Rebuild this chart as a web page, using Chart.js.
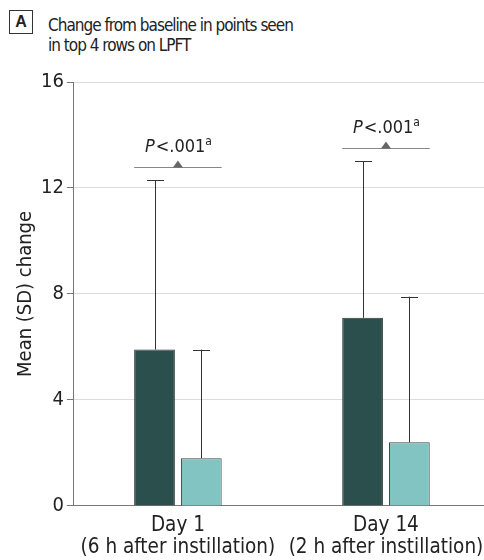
<!DOCTYPE html>
<html><head><meta charset="utf-8">
<script src="https://cdn.jsdelivr.net/npm/chart.js@4.4.1/dist/chart.umd.min.js"></script>
<style>
html,body{margin:0;padding:0;background:#fff;}
#wrap{position:relative;width:484px;height:560px;overflow:hidden;font-family:"DejaVu Sans Condensed","Liberation Sans",sans-serif;}
#box{position:absolute;left:9px;top:10px;width:22px;height:22px;border:1px solid #333;font-size:16px;font-weight:bold;text-align:center;line-height:22px;color:#222;font-family:"Liberation Sans","DejaVu Sans",sans-serif;}
#title{position:absolute;left:48px;top:15px;font-size:17px;letter-spacing:-1px;line-height:20px;color:#222;}
canvas{position:absolute;left:0;top:0;}
</style></head>
<body><div id="wrap">
<div id="box">A</div>
<div id="title">Change from baseline in points seen<br>in top 4 rows on LPFT</div>
<canvas id="c" width="496" height="570"></canvas>
</div>
<script>
const categories = [["Day 1","(6 h after instillation)"],["Day 14","(2 h after instillation)"]];
const seriesNames = ["Group 1","Group 2"];
const darkMeans = [5.9, 7.1];
const darkSD = [6.4, 5.9];
const lightMeans = [1.8, 2.4];
const lightSD = [4.1, 5.5];
const yTicks = [0,4,8,12,16];
const pLabels = ["P<.001a","P<.001a"];
const pLineLevel = [12.8, 13.5];
const FAM = '"DejaVu Sans Condensed","Liberation Sans",sans-serif';

const errorBars = {
  id:'errorBars',
  afterDatasetsDraw(chart){
    const ctx = chart.ctx, y = chart.scales.y;
    chart.data.datasets.forEach((ds,di)=>{
      const meta = chart.getDatasetMeta(di);
      meta.data.forEach((bar,i)=>{
        const top = y.getPixelForValue(ds.data[i] + ds.sd[i]);
        const base = y.getPixelForValue(ds.data[i]);
        ctx.save();
        ctx.strokeStyle='#333';ctx.lineWidth=1;
        ctx.beginPath();
        ctx.moveTo(Math.round(bar.x)+0.5, base);
        ctx.lineTo(Math.round(bar.x)+0.5, top);
        ctx.moveTo(Math.round(bar.x)-8, Math.round(top)+0.5);
        ctx.lineTo(Math.round(bar.x)+9, Math.round(top)+0.5);
        ctx.stroke();
        ctx.restore();
      });
    });
  }
};
const pAnn = {
  id:'pAnn',
  afterDatasetsDraw(chart){
    const ctx = chart.ctx, y = chart.scales.y;
    const m0 = chart.getDatasetMeta(0), m1 = chart.getDatasetMeta(1);
    pLabels.forEach((lab,i)=>{
      const b0 = m0.data[i], b1 = m1.data[i];
      const x0 = b0.x - b0.width/2, x1 = b1.x + b1.width/2;
      const cx = (x0+x1)/2;
      const ly = Math.round(y.getPixelForValue(pLineLevel[i]))+0.5;
      ctx.save();
      ctx.strokeStyle='#888';ctx.lineWidth=1;
      ctx.beginPath();ctx.moveTo(x0,ly);ctx.lineTo(x1,ly);ctx.stroke();
      ctx.fillStyle='#666';
      ctx.beginPath();ctx.moveTo(cx-5,ly);ctx.lineTo(cx+5,ly);ctx.lineTo(cx,ly-7);ctx.closePath();ctx.fill();
      const f1 = 'oblique 18px '+FAM, f2 = '18px '+FAM, f3 = '12px '+FAM;
      const p1 = lab[0], p2 = lab.slice(1,-1), p3 = lab.slice(-1);
      ctx.font=f1; const w1=ctx.measureText(p1).width;
      ctx.font=f2; const w2=ctx.measureText(p2).width;
      ctx.font=f3; const w3=ctx.measureText(p3).width;
      let tx = cx - (w1+w2+w3)/2;
      const ty = ly - 16;
      ctx.fillStyle='#222';ctx.textBaseline='alphabetic';ctx.textAlign='left';
      ctx.font=f1;ctx.fillText(p1,tx,ty);tx+=w1+1;
      ctx.font=f2;ctx.fillText(p2,tx,ty);tx+=w2;
      ctx.font=f3;ctx.fillText(p3,tx,ty-7);
      ctx.restore();
    });
  }
};

new Chart(document.getElementById('c'),{
  type:'bar',
  data:{labels:categories,datasets:[
    {label:seriesNames[0],data:darkMeans,sd:darkSD,backgroundColor:'#2b4f4d',borderColor:'#333',borderWidth:1,barPercentage:0.87,categoryPercentage:0.45},
    {label:seriesNames[1],data:lightMeans,sd:lightSD,backgroundColor:'#82c4c1',borderColor:'#444',borderWidth:1,barPercentage:0.87,categoryPercentage:0.45}
  ]},
  options:{
    responsive:false,animation:false,
    layout:{padding:{top:82,right:6,left:14,bottom:3}},
    plugins:{legend:{display:false},tooltip:{enabled:false}},
    scales:{
      x:{grid:{display:false,drawTicks:false},border:{color:'#777'},
         ticks:{color:'#222',padding:8,autoSkip:false,font:{family:FAM,size:20.5,lineHeight:1.1},maxRotation:0}},
      y:{min:0,max:16,afterBuildTicks(s){s.ticks=yTicks.map(v=>({value:v}));},
         grid:{color:'#ddd',tickColor:'#777',tickLength:7},border:{color:'#777'},
         ticks:{color:'#222',padding:3,font:{family:FAM,size:20}},
         title:{display:true,text:'Mean (SD) change',color:'#222',padding:{top:0,bottom:0},font:{family:FAM,size:20}}}
    }
  },
  plugins:[errorBars,pAnn]
});
</script>
</body></html>
